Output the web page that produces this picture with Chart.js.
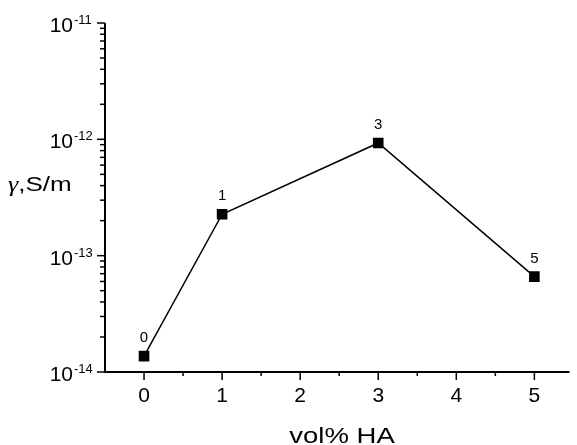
<!DOCTYPE html>
<html>
<head>
<meta charset="utf-8">
<script src="https://cdn.jsdelivr.net/npm/chart.js@4/dist/chart.umd.min.js"></script>
<style>
  html, body { margin: 0; padding: 0; background: #fff; }
  canvas { display: block; }
</style>
</head>
<body>
<canvas id="c" width="577" height="445"></canvas>
<script>
// data
const volPercent = [0, 1, 3, 5];
const conductivity = [1.37e-14, 2.27e-13, 9.3e-13, 6.6e-14];
const pointLabels = ['0', '1', '3', '5'];

// axis ticks
const xTicks = [0, 1, 2, 3, 4, 5];
const yDecades = [-14, -13, -12, -11];

const FONT = '"Liberation Sans", Arial, sans-serif';

// draws axes, ticks, labels and titles around the chart area
const axesPlugin = {
  id: 'axes',
  afterDatasetsDraw(chart) {
    const ctx = chart.ctx;
    const xs = chart.scales.x, ys = chart.scales.y;
    const a = chart.chartArea;
    ctx.save();
    ctx.strokeStyle = '#000';
    ctx.fillStyle = '#000';

    // axis lines
    ctx.lineWidth = 2;
    ctx.beginPath();
    ctx.moveTo(a.left, a.top);
    ctx.lineTo(a.left, a.bottom);
    ctx.lineTo(a.right, a.bottom);
    ctx.stroke();

    // x ticks
    ctx.lineWidth = 1.5;
    ctx.font = '21px ' + FONT;
    ctx.textAlign = 'center';
    ctx.textBaseline = 'alphabetic';
    xTicks.forEach(v => {
      const px = xs.getPixelForValue(v);
      ctx.beginPath();
      ctx.moveTo(px, a.bottom);
      ctx.lineTo(px, a.bottom + 8);
      ctx.stroke();
      ctx.fillText(String(v), px, a.bottom + 30);
      const half = xs.getPixelForValue(v + 0.5);
      if (half < a.right) {
        ctx.beginPath();
        ctx.moveTo(half, a.bottom);
        ctx.lineTo(half, a.bottom + 4);
        ctx.stroke();
      }
    });

    // y ticks (log)
    yDecades.forEach((d, i) => {
      const py = ys.getPixelForValue(Math.pow(10, d));
      ctx.beginPath();
      ctx.moveTo(a.left - 8, py);
      ctx.lineTo(a.left, py);
      ctx.stroke();
      // label 10^d
      ctx.font = '13px ' + FONT;
      ctx.textAlign = 'left';
      ctx.fillText(String(d), a.left - 31, py + 1);
      ctx.font = '21px ' + FONT;
      ctx.textAlign = 'right';
      ctx.fillText('10', a.left - 32, py + 9);
      if (i < yDecades.length - 1) {
        for (let m = 2; m <= 9; m++) {
          const pm = ys.getPixelForValue(m * Math.pow(10, d));
          ctx.beginPath();
          ctx.moveTo(a.left - 5, pm);
          ctx.lineTo(a.left, pm);
          ctx.stroke();
        }
      }
    });

    // point labels
    ctx.font = '15px ' + FONT;
    ctx.textAlign = 'center';
    const meta = chart.getDatasetMeta(0);
    meta.data.forEach((pt, i) => {
      ctx.fillText(pointLabels[i], pt.x, pt.y - 14);
    });

    // y title
    ctx.save();
    ctx.translate(8, 191);
    ctx.scale(1.3, 1);
    ctx.textAlign = 'left';
    ctx.font = 'italic 20px "Liberation Serif", serif';
    ctx.fillText('γ', 0, 0);
    const gW = ctx.measureText('γ').width;
    ctx.font = '20px ' + FONT;
    ctx.fillText(',S/m', gW, 0);
    ctx.restore();

    // x title
    ctx.save();
    ctx.translate(342, 443);
    ctx.scale(1.25, 1);
    ctx.textAlign = 'center';
    ctx.font = '22px ' + FONT;
    ctx.fillText('vol% HA', 0, 0);
    ctx.restore();

    ctx.restore();
  }
};

new Chart(document.getElementById('c'), {
  type: 'scatter',
  data: {
    datasets: [{
      data: volPercent.map((x, i) => ({ x: x, y: conductivity[i] })),
      showLine: true,
      borderColor: '#000',
      borderWidth: 1.5,
      pointStyle: 'rect',
      pointRadius: 7.5,
      pointBorderWidth: 0,
      pointBackgroundColor: '#000',
      pointBorderColor: '#000'
    }]
  },
  options: {
    responsive: false,
    animation: false,
    layout: { padding: { left: 105, top: 23, right: 0, bottom: 73 } },
    plugins: { legend: { display: false }, tooltip: { enabled: false } },
    scales: {
      x: { type: 'linear', min: -0.5, max: 5.45, display: false },
      y: { type: 'logarithmic', min: 1e-14, max: 1e-11, display: false }
    }
  },
  plugins: [axesPlugin]
});
</script>
</body>
</html>
